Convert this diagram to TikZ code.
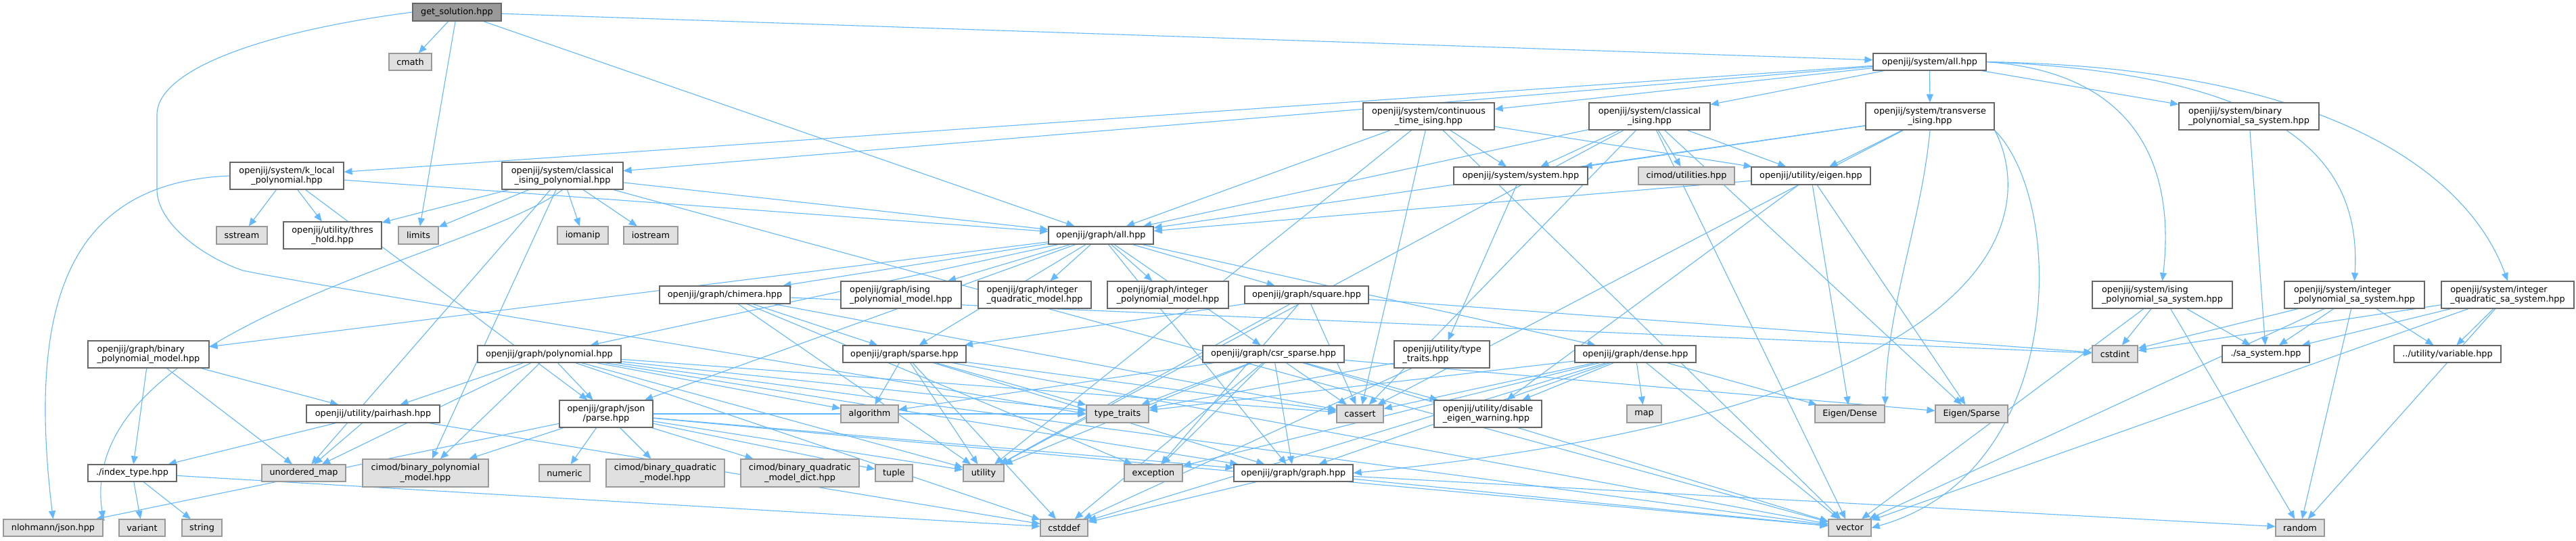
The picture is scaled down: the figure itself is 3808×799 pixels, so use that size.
\documentclass[tikz,border=0pt]{standalone}
\usepackage{fontspec}
\setmainfont{DejaVu Sans}
\usetikzlibrary{arrows.meta,backgrounds}
\definecolor{eblue}{RGB}{99,184,255}
\definecolor{wborder}{RGB}{102,102,102}
\definecolor{gfill}{RGB}{224,224,224}
\definecolor{gborder}{RGB}{153,153,153}
\definecolor{rootfill}{RGB}{153,153,153}
\newcommand\bx[7]{\node[#6, minimum width={(#4-#2)*0.5pt}, minimum height={(#5-#3)*0.5pt}] (#1) at ({(#2+#4)/2},{(#3+#5)/2}) {#7};}
\begin{document}
\begin{tikzpicture}[x=0.5pt,y=-0.5pt,
 base/.style={draw, line width=0.6pt, inner sep=0pt, font=\fontsize{6.4}{7.3}\selectfont, text=black},
 wbox/.style={base, draw=wborder, fill=white, align=center},
 wleft/.style={base, draw=wborder, fill=white, align=left},
 gbox/.style={base, draw=gborder, fill=gfill, align=center},
 rbox/.style={base, draw=wborder, fill=rootfill, align=center},
 edge/.style={draw=eblue, line width=0.55pt, -{Triangle[length=6pt,width=5pt]}}]
\useasboundingbox (0,0) rectangle (3808,799);
% nodes
\bx{gs}{610}{5}{741}{31}{rbox}{get\_solution.hpp}
\bx{cmath}{575}{79}{638}{104}{gbox}{cmath}
\bx{sysall}{2769}{79}{2936}{104}{wbox}{openjij/system/all.hpp}
\bx{cti}{2015}{152}{2209}{192}{wbox}{openjij/system/continuous\\\_time\_ising.hpp}
\bx{ci}{2349}{152}{2528}{192}{wbox}{openjij/system/classical\\\_ising.hpp}
\bx{ti}{2758}{152}{2948}{192}{wbox}{openjij/system/transverse\\\_ising.hpp}
\bx{bpsa}{3221}{152}{3428}{192}{wleft}{openjij/system/binary\\\_polynomial\_sa\_system.hpp}
\bx{klp}{340}{240}{508}{280}{wbox}{openjij/system/k\_local\\\_polynomial.hpp}
\bx{cip}{742}{240}{921}{280}{wbox}{openjij/system/classical\\\_ising\_polynomial.hpp}
\bx{sysh}{2149}{247}{2347}{273}{wbox}{openjij/system/system.hpp}
\bx{cimodu}{2422}{247}{2564}{273}{gbox}{cimod/utilities.hpp}
\bx{eigen}{2589}{247}{2765}{273}{wbox}{openjij/utility/eigen.hpp}
\bx{sstream}{320}{335}{395}{361}{gbox}{sstream}
\bx{thres}{419}{328}{564}{368}{wbox}{openjij/utility/thres\\\_hold.hpp}
\bx{limits}{589}{335}{648}{361}{gbox}{limits}
\bx{iomanip}{824}{335}{899}{361}{gbox}{iomanip}
\bx{iostream}{922}{335}{1002}{361}{gbox}{iostream}
\bx{gall}{1550}{335}{1705}{361}{wbox}{openjij/graph/all.hpp}
\bx{bpm}{130}{504}{309}{544}{wleft}{openjij/graph/binary\\\_polynomial\_model.hpp}
\bx{chimera}{975}{423}{1168}{449}{wbox}{openjij/graph/chimera.hpp}
\bx{ipm}{1243}{416}{1421}{456}{wleft}{openjij/graph/ising\\\_polynomial\_model.hpp}
\bx{iqm}{1446}{416}{1613}{456}{wleft}{openjij/graph/integer\\\_quadratic\_model.hpp}
\bx{ipolym}{1637}{416}{1816}{456}{wleft}{openjij/graph/integer\\\_polynomial\_model.hpp}
\bx{square}{1840}{423}{2023}{449}{wbox}{openjij/graph/square.hpp}
\bx{isa}{3093}{416}{3300}{456}{wleft}{openjij/system/ising\\\_polynomial\_sa\_system.hpp}
\bx{ipsa}{3377}{416}{3584}{456}{wleft}{openjij/system/integer\\\_polynomial\_sa\_system.hpp}
\bx{iqsa}{3609}{416}{3805}{456}{wleft}{openjij/system/integer\\\_quadratic\_sa\_system.hpp}
\bx{poly}{706}{511}{918}{536}{wbox}{openjij/graph/polynomial.hpp}
\bx{sparse}{1246}{511}{1428}{536}{wbox}{openjij/graph/sparse.hpp}
\bx{csr}{1778}{511}{1987}{536}{wbox}{openjij/graph/csr\_sparse.hpp}
\bx{utt}{2061}{504}{2202}{544}{wleft}{openjij/utility/type\\\_traits.hpp}
\bx{dense}{2328}{511}{2507}{536}{wbox}{openjij/graph/dense.hpp}
\bx{cstdint}{3093}{511}{3160}{536}{gbox}{cstdint}
\bx{sasys}{3285}{511}{3414}{536}{wbox}{./sa\_system.hpp}
\bx{variable}{3539}{511}{3697}{536}{wbox}{../utility/variable.hpp}
\bx{pairhash}{453}{599}{650}{625}{wbox}{openjij/utility/pairhash.hpp}
\bx{algorithm}{1243}{599}{1328}{625}{gbox}{algorithm}
\bx{typetraits}{1606}{599}{1698}{625}{gbox}{type\_traits}
\bx{cassert}{1976}{599}{2045}{625}{gbox}{cassert}
\bx{dew}{2120}{592}{2279}{632}{wleft}{openjij/utility/disable\\\_eigen\_warning.hpp}
\bx{map}{2405}{599}{2456}{625}{gbox}{map}
\bx{edense}{2683}{599}{2786}{625}{gbox}{Eigen/Dense}
\bx{esparse}{2861}{599}{2968}{625}{gbox}{Eigen/Sparse}
\bx{parse}{827}{592}{965}{632}{wbox}{openjij/graph/json\\/parse.hpp}
\bx{idx}{130}{687}{261}{712}{wbox}{./index\_type.hpp}
\bx{umap}{387}{687}{511}{712}{gbox}{unordered\_map}
\bx{cbpm}{536}{679}{722}{720}{gbox}{cimod/binary\_polynomial\\\_model.hpp}
\bx{numeric}{797}{687}{872}{712}{gbox}{numeric}
\bx{cbqm}{896}{679}{1071}{720}{gbox}{cimod/binary\_quadratic\\\_model.hpp}
\bx{cbqmd}{1095}{679}{1270}{720}{gbox}{cimod/binary\_quadratic\\\_model\_dict.hpp}
\bx{tuple}{1294}{687}{1349}{712}{gbox}{tuple}
\bx{utility}{1424}{687}{1484}{712}{gbox}{utility}
\bx{exception}{1662}{687}{1748}{712}{gbox}{exception}
\bx{ghpp}{1824}{687}{2000}{712}{wbox}{openjij/graph/graph.hpp}
\bx{nlohmann}{5}{768}{152}{793}{gbox}{nlohmann/json.hpp}
\bx{variant}{176}{768}{244}{793}{gbox}{variant}
\bx{string}{269}{768}{328}{793}{gbox}{string}
\bx{cstddef}{1538}{768}{1608}{793}{gbox}{cstddef}
\bx{vector}{2703}{768}{2766}{793}{gbox}{vector}
\bx{random}{3364}{768}{3436}{793}{gbox}{random}
\begin{pgfonlayer}{background}
\fill[white] (0,0) rectangle (3808,799);
\foreach \t in {cmath,limits,gall,sysall} \draw[edge] (gs) -- (\t);
\draw[edge] (gs.west) .. controls (400,45) and (232,100) .. (232,170) -- (232,280) .. controls (232,330) and (300,380) .. (359,400) .. controls (450,420) and (1200,540) .. (typetraits.west);
\foreach \t in {cti,ci,ti,bpsa,klp,cip} \draw[edge] (sysall) -- (\t);
\draw[edge] (sysall.east) .. controls (3200,110) and (3210,300) .. (isa.north);
\draw[edge] (sysall.east) .. controls (3400,110) and (3490,250) .. (ipsa.north);
\draw[edge] (sysall.east) .. controls (3450,100) and (3650,260) .. (iqsa.north);
\foreach \t in {gall,sysh,eigen,cassert,vector,utility} \draw[edge] (cti) -- (\t);
\foreach \t in {gall,sysh,eigen,cimodu,cassert,vector,esparse,utility} \draw[edge] (ci) -- (\t);
\foreach \t in {sysh,eigen,gall,cassert} \draw[edge] (ti) -- (\t);
\draw[edge] (ti.south) .. controls (2840,330) and (2790,450) .. (edense.north east);
\draw[edge] (ti.south east) .. controls (3005,300) and (3005,600) .. (ghpp.east);
\draw[edge] (ti.south east) .. controls (3055,300) and (3055,700) .. (vector.east);
\draw[edge] (sysh) -- (utt);
\foreach \t in {gall,edense,esparse,dew} \draw[edge] (eigen) -- (\t);
\draw[edge] (klp.west) .. controls (100,270) and (40,450) .. (nlohmann.north);
\foreach \t in {sstream,thres,gall,parse} \draw[edge] (klp) -- (\t);
\foreach \t in {gall,thres,limits,iomanip,iostream,umap,vector,cbpm} \draw[edge] (cip) -- (\t);
\draw[edge] (cip.south) .. controls (700,380) and (110,480) .. (nlohmann.north east);
\foreach \t in {bpm,chimera,ipm,iqm,ipolym,square,poly,sparse,csr,dense,ghpp,parse} \draw[edge] (gall) -- (\t);
\foreach \t in {idx,umap,pairhash} \draw[edge] (bpm) -- (\t);
\foreach \t in {idx,umap,cstddef} \draw[edge] (pairhash) -- (\t);
\foreach \t in {variant,string,cstddef} \draw[edge] (idx) -- (\t);
\foreach \t in {sparse,cassert,exception,cstdint,utility} \draw[edge] (chimera) -- (\t);
\foreach \t in {sparse,cassert,exception,cstdint,utility} \draw[edge] (square) -- (\t);
\foreach \t in {ghpp,algorithm,typetraits,utility,cstddef,vector,cassert} \draw[edge] (sparse) -- (\t);
\foreach \t in {pairhash,cbpm,parse,algorithm,typetraits,umap,utility,vector,cassert,ghpp,cstddef} \draw[edge] (poly) -- (\t);
\foreach \t in {ghpp,esparse,typetraits,cassert,utility,cstddef,vector,exception,algorithm,dew} \draw[edge] (csr) -- (\t);
\foreach \t in {cassert,dew,ghpp,cstddef,map,vector,edense,typetraits,exception} \draw[edge] (dense) -- (\t);
\foreach \t in {typetraits,cstddef} \draw[edge] (utt) -- (\t);
\foreach \t in {cbpm,cbqm,cbqmd,nlohmann,numeric,ghpp,typetraits,utility,tuple,vector} \draw[edge] (parse) -- (\t);
\foreach \t in {cstddef,vector,random} \draw[edge] (ghpp) -- (\t);
\foreach \t in {cstdint,sasys,random,vector} \draw[edge] (isa) -- (\t);
\foreach \t in {cstdint,sasys,variable,vector,random} \draw[edge] (ipsa) -- (\t);
\foreach \t in {cstdint,sasys,variable,vector,random} \draw[edge] (iqsa) -- (\t);
\draw[edge] (bpsa) -- (sasys);
\end{pgfonlayer}
\end{tikzpicture}
\end{document}
